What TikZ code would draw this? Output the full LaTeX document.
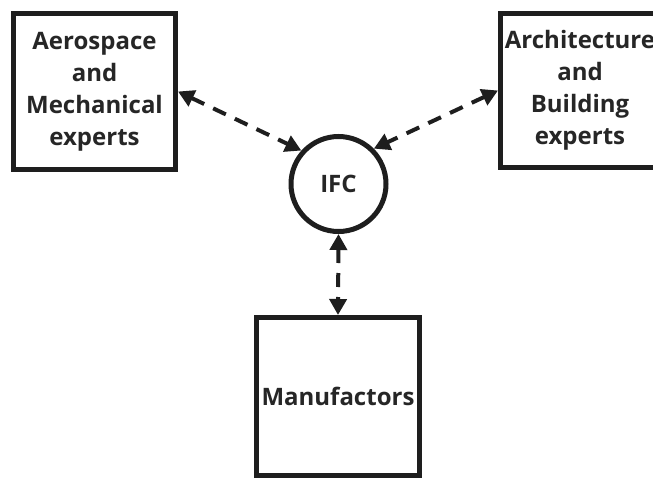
\documentclass[tikz,border=0pt]{standalone}
\usepackage{fontspec}
\setmainfont{Open Sans}[BoldFont={* Bold}]
\usetikzlibrary{arrows.meta}
\definecolor{ink}{HTML}{1E1E1E}
\definecolor{txt}{HTML}{262626}
\tikzset{
  boxnode/.style={draw=ink, line width=5pt, fill=white, align=center, inner sep=0pt,
    font=\bfseries\fontsize{24}{32}\selectfont, text=txt},
  hubnode/.style={draw=ink, line width=5pt, circle, minimum size=95pt, inner sep=0pt,
    font=\bfseries\fontsize{24}{28}\selectfont, text=txt},
  link/.style={draw=ink, line width=4pt, dash pattern=on 14pt off 10pt,
    {Triangle[length=16pt,width=17pt]}-{Triangle[length=16pt,width=17pt]}, shorten <=0pt, shorten >=0pt}
}
\begin{document}
\begin{tikzpicture}[x=1pt,y=-1pt]
\useasboundingbox (0,0) rectangle (653,479);
\fill[white] (0,0) rectangle (653,479);
\node[boxnode, minimum width=162pt, minimum height=156pt] (aero) at (94.5,91.5) {Aerospace\\and\\Mechanical\\experts};
\node[boxnode, minimum width=159pt, minimum height=154pt] (arch) at (580,90.5) {Architecture\\and\\Building\\experts};
\node[hubnode] (ifc) at (338.5,184) {IFC};
\node[boxnode, minimum width=163pt, minimum height=158pt] (manu) at (338,396.5) {Manufactors};
\draw[link] (aero.east) -- (ifc.138);
\draw[link] (arch.west) -- (ifc.45);
\draw[link] (ifc.south) -- (manu.north);
\end{tikzpicture}
\end{document}
